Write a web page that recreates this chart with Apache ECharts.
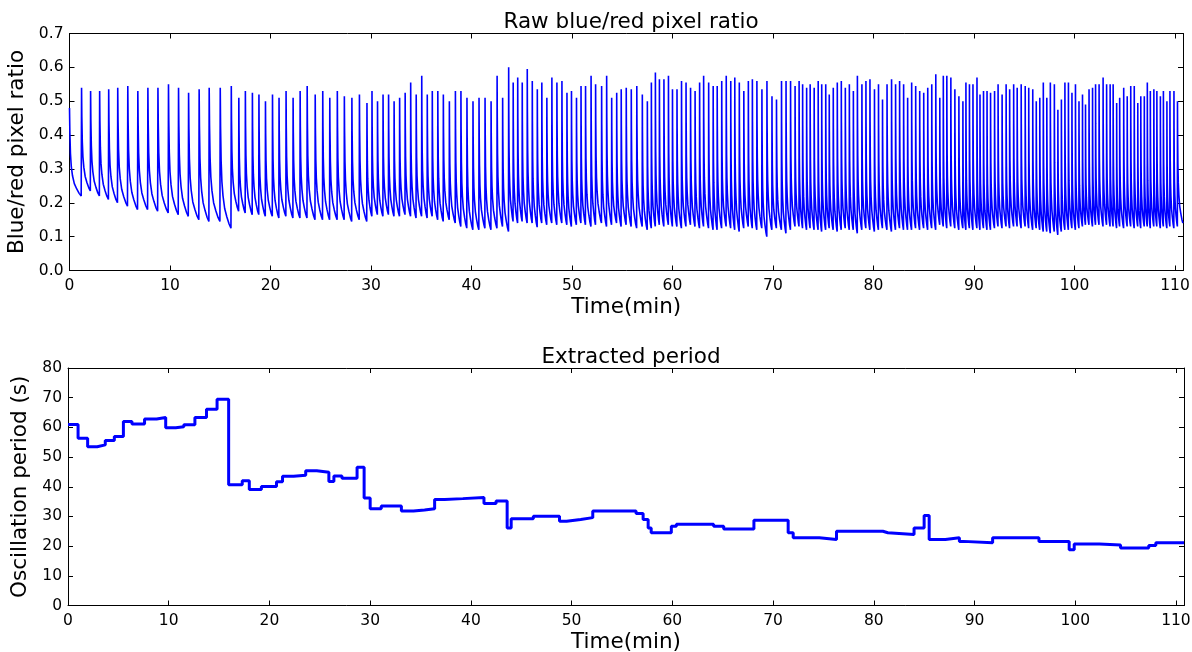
<!DOCTYPE html>
<html>
<head>
<meta charset="utf-8">
<title>Blue/red pixel ratio and extracted period</title>
<script src="https://cdn.jsdelivr.net/npm/echarts@6/dist/echarts.min.js"></script>
<style>
  html, body { margin: 0; padding: 0; background: #fff; }
  #chart { width: 1192px; height: 652px; }
</style>
</head>
<body>
<div id="chart"></div>
<script>
// ---- data ----
// top panel: time (min) of every spike maximum, its height, and the level the
// ratio has fallen to just before the next spike
var peakTimes = [
  0, 1.2, 2.1, 3.0, 3.9, 4.8, 5.8, 6.8, 7.8, 8.8,
  9.85, 10.85, 11.85, 12.9, 13.9, 15.0, 16.1, 16.85, 17.5, 18.2,
  18.85, 19.5, 20.2, 20.85, 21.55, 22.25, 22.95, 23.65, 24.45, 25.2,
  25.9, 26.65, 27.35, 28.1, 28.85, 29.6, 30.1, 30.65, 31.2, 31.75,
  32.3, 32.85, 33.4, 33.95, 34.5, 35.05, 35.6, 36.1, 36.65, 37.2,
  37.8, 38.4, 38.95, 39.55, 40.15, 40.75, 41.35, 41.95, 42.55, 43.1,
  43.7, 44.15, 44.6, 45.05, 45.55, 46.05, 46.55, 47.0, 47.5, 48.0,
  48.5, 49.0, 49.5, 49.95, 50.45, 50.9, 51.35, 51.9, 52.35, 52.95,
  53.45, 53.95, 54.45, 54.9, 55.4, 55.9, 56.45, 57.0, 57.5, 57.9,
  58.3, 58.7, 59.15, 59.6, 60.0, 60.45, 60.9, 61.35, 61.8, 62.25,
  62.7, 63.1, 63.6, 64.05, 64.45, 64.9, 65.35, 65.8, 66.2, 66.65,
  67.1, 67.55, 67.95, 68.4, 68.9, 69.4, 69.9, 70.35, 70.85, 71.3,
  71.75, 72.2, 72.6, 72.95, 73.35, 73.7, 74.1, 74.5, 74.85, 75.25,
  75.6, 76.0, 76.4, 76.8, 77.2, 77.6, 78.0, 78.4, 78.85, 79.25,
  79.65, 80.1, 80.5, 80.9, 81.35, 81.8, 82.2, 82.6, 83.0, 83.4,
  83.8, 84.2, 84.6, 85.0, 85.4, 85.8, 86.2, 86.6, 86.95, 87.3,
  87.7, 88.1, 88.5, 88.9, 89.2, 89.55, 89.9, 90.3, 90.6, 90.95,
  91.3, 91.65, 92.05, 92.4, 92.8, 93.2, 93.55, 93.95, 94.3, 94.7,
  95.1, 95.45, 95.85, 96.2, 96.55, 96.9, 97.25, 97.6, 98.0, 98.35,
  98.7, 99.05, 99.4, 99.75, 100.1, 100.45, 100.8, 101.1, 101.45, 101.8,
  102.1, 102.45, 102.85, 103.2, 103.55, 103.85, 104.2, 104.5, 104.9, 105.25,
  105.6, 105.95, 106.3, 106.6, 106.95, 107.25, 107.55, 107.9, 108.2, 108.55,
  108.85, 109.2, 109.5, 109.9, 110.25
]
var peakValues = [
  0.48, 0.54, 0.53, 0.53, 0.535, 0.54, 0.545, 0.53, 0.54, 0.54,
  0.55, 0.54, 0.525, 0.535, 0.54, 0.54, 0.545, 0.51, 0.53, 0.525,
  0.52, 0.50, 0.52, 0.51, 0.53, 0.51, 0.53, 0.545, 0.52, 0.53,
  0.51, 0.53, 0.515, 0.51, 0.52, 0.495, 0.53, 0.50, 0.52, 0.52,
  0.50, 0.51, 0.525, 0.555, 0.52, 0.575, 0.52, 0.53, 0.53, 0.52,
  0.50, 0.53, 0.53, 0.51, 0.50, 0.51, 0.51, 0.50, 0.575, 0.51,
  0.60, 0.555, 0.57, 0.555, 0.595, 0.56, 0.535, 0.555, 0.51, 0.57,
  0.555, 0.56, 0.525, 0.53, 0.51, 0.545, 0.545, 0.575, 0.55, 0.545,
  0.575, 0.51, 0.525, 0.535, 0.54, 0.535, 0.545, 0.52, 0.50, 0.555,
  0.585, 0.565, 0.565, 0.575, 0.535, 0.535, 0.56, 0.555, 0.54, 0.53,
  0.555, 0.575, 0.555, 0.545, 0.545, 0.56, 0.575, 0.56, 0.57, 0.555,
  0.53, 0.56, 0.565, 0.56, 0.535, 0.56, 0.515, 0.505, 0.56, 0.56,
  0.56, 0.545, 0.56, 0.55, 0.54, 0.55, 0.54, 0.56, 0.55, 0.55,
  0.52, 0.54, 0.555, 0.56, 0.54, 0.55, 0.53, 0.575, 0.55, 0.56,
  0.565, 0.535, 0.55, 0.505, 0.55, 0.565, 0.55, 0.56, 0.55, 0.51,
  0.555, 0.545, 0.53, 0.525, 0.54, 0.55, 0.58, 0.51, 0.575, 0.575,
  0.57, 0.535, 0.515, 0.50, 0.555, 0.55, 0.55, 0.57, 0.52, 0.53,
  0.53, 0.525, 0.53, 0.55, 0.52, 0.55, 0.535, 0.55, 0.54, 0.55,
  0.545, 0.54, 0.535, 0.50, 0.51, 0.555, 0.51, 0.555, 0.55, 0.475,
  0.505, 0.555, 0.555, 0.525, 0.55, 0.50, 0.52, 0.49, 0.535, 0.54,
  0.55, 0.55, 0.57, 0.55, 0.55, 0.55, 0.495, 0.51, 0.54, 0.515,
  0.545, 0.545, 0.495, 0.515, 0.515, 0.555, 0.53, 0.535, 0.53, 0.515,
  0.53, 0.50, 0.53, 0.53, 0.50
]
var troughValues = [
  0.22, 0.235, 0.22, 0.21, 0.20, 0.19, 0.18, 0.18, 0.175, 0.17,
  0.165, 0.16, 0.15, 0.145, 0.145, 0.125, 0.175, 0.17, 0.165, 0.165,
  0.16, 0.16, 0.155, 0.16, 0.155, 0.155, 0.155, 0.15, 0.15, 0.15,
  0.15, 0.15, 0.145, 0.15, 0.145, 0.16, 0.165, 0.16, 0.165, 0.16,
  0.16, 0.165, 0.16, 0.155, 0.16, 0.155, 0.16, 0.15, 0.145, 0.15,
  0.14, 0.13, 0.125, 0.12, 0.12, 0.125, 0.12, 0.125, 0.13, 0.115,
  0.145, 0.14, 0.145, 0.14, 0.14, 0.128, 0.14, 0.135, 0.14, 0.135,
  0.14, 0.135, 0.13, 0.135, 0.14, 0.135, 0.13, 0.135, 0.14, 0.13,
  0.135, 0.14, 0.13, 0.135, 0.13, 0.125, 0.13, 0.12, 0.125, 0.13,
  0.135, 0.13, 0.135, 0.13, 0.13, 0.125, 0.13, 0.135, 0.13, 0.125,
  0.13, 0.125, 0.12, 0.12, 0.125, 0.13, 0.125, 0.12, 0.115, 0.125,
  0.13, 0.125, 0.12, 0.125, 0.10, 0.12, 0.125, 0.12, 0.11, 0.12,
  0.13, 0.13, 0.125, 0.12, 0.125, 0.12, 0.12, 0.115, 0.12, 0.125,
  0.12, 0.115, 0.12, 0.125, 0.12, 0.12, 0.11, 0.12, 0.125, 0.12,
  0.115, 0.12, 0.125, 0.12, 0.115, 0.12, 0.125, 0.12, 0.12, 0.12,
  0.125, 0.12, 0.125, 0.12, 0.125, 0.12, 0.135, 0.13, 0.125, 0.13,
  0.125, 0.12, 0.125, 0.12, 0.125, 0.12, 0.125, 0.12, 0.125, 0.12,
  0.12, 0.125, 0.13, 0.125, 0.13, 0.125, 0.13, 0.13, 0.125, 0.13,
  0.125, 0.12, 0.125, 0.12, 0.115, 0.115, 0.11, 0.115, 0.105, 0.115,
  0.12, 0.12, 0.125, 0.12, 0.125, 0.13, 0.135, 0.135, 0.13, 0.135,
  0.135, 0.13, 0.135, 0.13, 0.13, 0.125, 0.13, 0.125, 0.13, 0.13,
  0.125, 0.13, 0.125, 0.13, 0.13, 0.125, 0.13, 0.13, 0.125, 0.13,
  0.125, 0.13, 0.125, 0.13, 0.14
]
// last sample of the recording (min)
var dataEnd = 110.8

// shape of one oscillation, read from the wide early cycles:
// fraction of the cycle elapsed after the spike -> fraction of the spike height left
var cycleFrac = [0, 0.03, 0.08, 0.15, 0.25, 0.4, 0.6, 0.8, 0.97]
var cycleLevel = [1, 0.72, 0.48, 0.33, 0.23, 0.14, 0.08, 0.03, 0]

// bottom panel: start time (min) of each step and the period (s) it holds
var stepTimes = [
  0, 1.0, 1.95, 2.9, 3.7, 4.6, 5.5, 6.35, 7.6, 8.8,
  9.7, 10.7, 11.5, 12.6, 13.75, 14.8, 15.95, 17.3, 18.0, 19.2,
  20.7, 21.3, 22.4, 23.6, 24.7, 25.9, 26.4, 27.2, 28.7, 29.4,
  30.0, 31.1, 33.1, 34.3, 35.4, 36.4, 37.4, 39.2, 41.3, 42.5,
  43.6, 44.0, 46.2, 48.8, 49.5, 50.9, 52.1, 56.4, 57.1, 57.6,
  57.9, 59.9, 60.4, 64.1, 65.1, 68.1, 71.5, 72.0, 74.6, 76.3,
  80.9, 81.4, 84.0, 85.0, 85.5, 87.1, 88.5, 88.9, 91.8, 96.4,
  99.4, 99.9, 102.4, 104.5, 107.3, 108.0, 110.8
]
var stepPeriods = [
  61, 56.3, 53.5, 54.1, 55.6, 56.9, 62, 61.1, 62.8, 63.3,
  59.9, 60.2, 60.9, 63.3, 66.1, 69.5, 40.7, 42, 39.1, 40.1,
  41.7, 43.5, 43.9, 45.4, 44.9, 41.8, 43.6, 42.9, 46.6, 36.2,
  32.6, 33.5, 31.8, 32.2, 32.6, 35.7, 36.0, 36.4, 34.4, 35.2,
  26.1, 29.2, 30.1, 28.4, 29.0, 29.6, 31.8, 31.0, 29.0, 26.1,
  24.5, 26.7, 27.4, 26.7, 25.8, 28.7, 24.5, 22.8, 22.2, 25.0,
  24.5, 23.9, 26.1, 30.3, 22.2, 22.8, 21.6, 21.1, 22.8, 21.6,
  18.8, 20.7, 20.4, 19.4, 20.2, 21.1, 21.1
]

var timeTicks = 10
var ratioTicks = 0.1
var periodTicks = 10

// ---- build series ----
function buildRatioSeries() {
  var pts = []
  for (var i = 0; i < peakTimes.length; i++) {
    var t0 = peakTimes[i]
    var t1 = i + 1 < peakTimes.length ? peakTimes[i + 1] : dataEnd
    var span = t1 - t0
    var hi = peakValues[i]
    var lo = troughValues[i]
    for (var k = 0; k < cycleFrac.length; k++) {
      pts.push([t0 + cycleFrac[k] * span, lo + cycleLevel[k] * (hi - lo)])
    }
  }
  return pts
}

function buildPeriodSeries() {
  var pts = []
  for (var i = 0; i < stepTimes.length; i++) {
    pts.push([stepTimes[i], stepPeriods[i]])
  }
  return pts
}

var FONT = "DejaVu Sans"
var BLUE = "#0000ff"
var INK = "#000000"

// matplotlib style: frame on all sides, ticks pointing in
function bottomAxis(grid, name) {
  return {
    type: "value", gridIndex: grid, position: "bottom",
    min: 0, max: dataEnd, interval: timeTicks,
    name: name, nameLocation: "middle", nameGap: 26,
    nameTextStyle: { fontFamily: FONT, fontSize: 21.5, color: INK },
    axisLine: { show: true, onZero: false, lineStyle: { color: INK, width: 1 } },
    axisTick: { show: true, inside: true, length: 5, lineStyle: { color: INK } },
    axisLabel: {
      fontFamily: FONT, fontSize: 15.5, color: INK, margin: 7,
      formatter: function (v) { return v % timeTicks === 0 ? String(v) : "" }
    },
    splitLine: { show: false }
  }
}
function topAxis(grid) {
  return {
    type: "value", gridIndex: grid, position: "top",
    min: 0, max: dataEnd, interval: timeTicks,
    axisLine: { show: true, onZero: false, lineStyle: { color: INK, width: 1 } },
    axisTick: { show: true, inside: true, length: 5, lineStyle: { color: INK } },
    axisLabel: { show: false },
    splitLine: { show: false }
  }
}
function leftAxis(grid, max, step, name, gap, digits) {
  return {
    type: "value", gridIndex: grid, position: "left",
    min: 0, max: max, interval: step,
    name: name, nameLocation: "middle", nameGap: gap,
    nameTextStyle: { fontFamily: FONT, fontSize: 21.5, color: INK },
    axisLine: { show: true, onZero: false, lineStyle: { color: INK, width: 1 } },
    axisTick: { show: true, inside: true, length: 5, lineStyle: { color: INK } },
    axisLabel: {
      fontFamily: FONT, fontSize: 15.5, color: INK, margin: 6,
      formatter: function (v) { return v.toFixed(digits) }
    },
    splitLine: { show: false }
  }
}
function rightAxis(grid, max, step) {
  return {
    type: "value", gridIndex: grid, position: "right",
    min: 0, max: max, interval: step,
    axisLine: { show: true, onZero: false, lineStyle: { color: INK, width: 1 } },
    axisTick: { show: true, inside: true, length: 5, lineStyle: { color: INK } },
    axisLabel: { show: false },
    splitLine: { show: false }
  }
}

var chart = echarts.init(document.getElementById("chart"), null, { renderer: "canvas" })

var option = {
  animation: false,
  backgroundColor: "#ffffff",
  title: [
    {
      text: "Raw blue/red pixel ratio", left: 626, top: 6, textAlign: "center",
      textStyle: { fontFamily: FONT, fontSize: 21.5, fontWeight: "normal", color: INK }
    },
    {
      text: "Extracted period", left: 626, top: 341, textAlign: "center",
      textStyle: { fontFamily: FONT, fontSize: 21.5, fontWeight: "normal", color: INK }
    }
  ],
  grid: [
    { left: 69.5, top: 33.5, right: 9, height: 237, outerBoundsMode: "none" },
    { left: 68, top: 368, right: 8, height: 237.5, outerBoundsMode: "none" }
  ],
  xAxis: [
    bottomAxis(0, "Time(min)"), topAxis(0),
    bottomAxis(1, "Time(min)"), topAxis(1)
  ],
  yAxis: [
    leftAxis(0, 0.7, ratioTicks, "Blue/red pixel ratio", 33, 1), rightAxis(0, 0.7, ratioTicks),
    leftAxis(1, 80, periodTicks, "Oscillation period (s)", 28, 0), rightAxis(1, 80, periodTicks)
  ],
  series: [
    {
      name: "Blue/red pixel ratio", type: "line",
      xAxisIndex: 0, yAxisIndex: 0,
      data: buildRatioSeries(),
      showSymbol: false, symbol: "none",
      lineStyle: { color: BLUE, width: 1.6 },
      z: 3
    },
    {
      name: "Oscillation period", type: "line", step: "end",
      xAxisIndex: 2, yAxisIndex: 2,
      data: buildPeriodSeries(),
      showSymbol: false, symbol: "none",
      lineStyle: { color: BLUE, width: 3 },
      z: 3
    }
  ]
}

chart.setOption(option)
window.addEventListener("resize", function () {
  chart.resize()
})
</script>
</body>
</html>
